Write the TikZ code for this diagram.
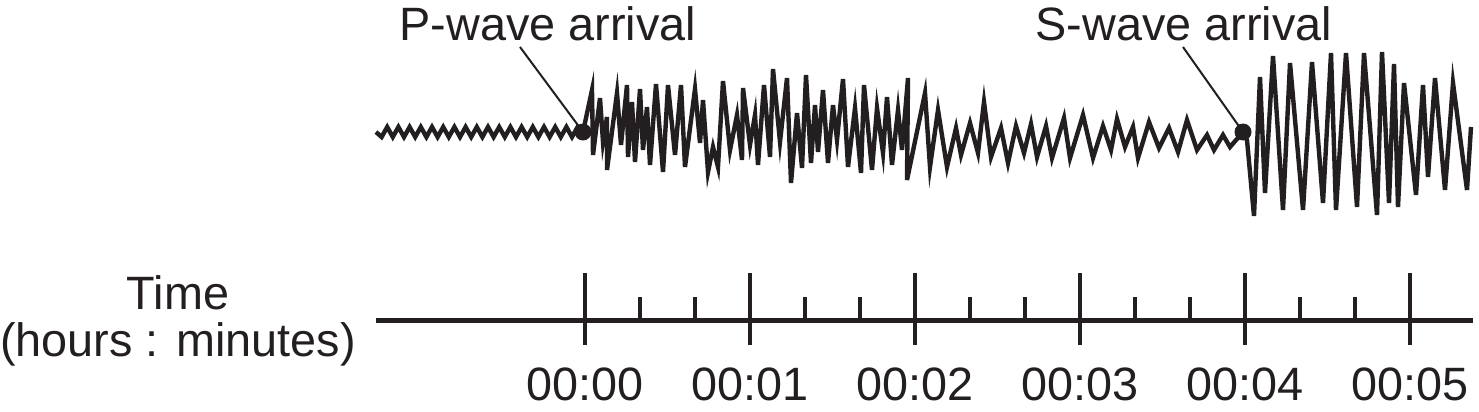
\documentclass[tikz,border=0pt]{standalone}
\usepackage{fontspec}
\setmainfont{Liberation Sans}
\usepackage{tikz}

\definecolor{ink}{HTML}{231F20}

\tikzset{
    wave/.style = {ink, line width=2.2pt, line join=miter},
    axisline/.style = {ink, line width=2.5pt},
    bigtick/.style = {ink, line width=1.7pt},
    smalltick/.style = {ink, line width=1.7pt},
    leader/.style = {ink, line width=1pt},
    arrivaldot/.style = {circle, fill=ink, inner sep=0pt, minimum size=8.5pt},
    txt/.style = {ink, inner sep=0pt}
}

\begin{document}
\begin{tikzpicture}[x=0.5pt, y=-0.5pt, font=\fontsize{23.4}{23.4}\selectfont]

        \useasboundingbox (0,0) rectangle (1479,412);

        % seismogram trace
        \draw[wave] (376,132)
            \foreach \i in {0,...,17} {-- ({381.6+11.2*\i},137) -- ({387.2+11.2*\i},127)}
            -- (583,132)
            -- (592,90) -- (593,155) -- (600,98) -- (603,142) -- (607,117) -- (607,170)
            -- (617,93) -- (621,145) -- (627,85) -- (628,157) -- (632,102) -- (635,162)
            -- (640,89) -- (643,150) -- (647,107) -- (650,165) -- (656,84) -- (663,172)
            -- (668,85) -- (675,155) -- (681,85) -- (685,167) -- (695,89) -- (700,143)
            -- (703,100) -- (708,172) -- (713,147) -- (718,167) -- (723,81) -- (730,150)
            -- (737,115) -- (742,160) -- (743,88) -- (750,145) -- (755,115) -- (758,165)
            -- (764,85) -- (770,157) -- (773,69) -- (780,142) -- (787,78) -- (791,183)
            -- (797,113) -- (802,168) -- (806,75) -- (811,163) -- (815,105) -- (818,152)
            -- (823,90) -- (828,163) -- (833,105) -- (837,140) -- (843,79) -- (848,167)
            -- (855,108) -- (861,173) -- (864,85) -- (872,170) -- (877,108) -- (883,153)
            -- (887,97) -- (892,165) -- (898,110) -- (902,150) -- (908,78) -- (907,180)
            -- (925,93) -- (930,167) -- (938,110) -- (947,167) -- (956,128) -- (961,155)
            -- (970,123) -- (978,153) -- (984,102) -- (991,157) -- (1001,128) -- (1008,163)
            -- (1016,126) -- (1024,153) -- (1031,124) -- (1037,157) -- (1046,126) -- (1052,158)
            -- (1064,118) -- (1070,158) -- (1083,115) -- (1093,158) -- (1103,126) -- (1111,150)
            -- (1117,119) -- (1125,147) -- (1133,127) -- (1138,158) -- (1149,122) -- (1159,148)
            -- (1169,128) -- (1178,152) -- (1187,120) -- (1197,150) -- (1207,135) -- (1214,150)
            -- (1223,135) -- (1230,147) -- (1243,132)
            -- (1247,140) -- (1254,216) -- (1260,77) -- (1265,193) -- (1273,56) -- (1283,210)
            -- (1290,63) -- (1303,210) -- (1312,62) -- (1323,203) -- (1331,53) -- (1336,210)
            -- (1346,53) -- (1357,207) -- (1364,53) -- (1377,215) -- (1382,52) -- (1389,203)
            -- (1394,64) -- (1398,207) -- (1404,83) -- (1416,195) -- (1423,85) -- (1428,177)
            -- (1435,78) -- (1445,190) -- (1453,83) -- (1467,190) -- (1471,127);

        % arrivals
        \node (p_label)[txt, anchor=base] at (548,40) {P-wave arrival};
        \node (s_label)[txt, anchor=base] at (1184,40) {S-wave arrival};
        \coordinate (p_tip) at (520,47);
        \coordinate (s_tip) at (1183,47);
        \node (p_dot)[arrivaldot] at (583,132) {};
        \node (s_dot)[arrivaldot] at (1243,132) {};
        \path (p_tip) edge[leader] (p_dot.center);
        \path (s_tip) edge[leader] (s_dot.center);

        % time axis
        \node (time_label)[txt, anchor=north, align=center] at (178,275) {Time\\(hours : minutes)};
        \coordinate (axis_start) at (376,320);
        \coordinate (axis_end) at (1473,320);
        \draw[axisline] (axis_start) -- (axis_end);
        \foreach \m in {0,...,5} {
            \draw[bigtick] ({585+165*\m},273) -- ({585+165*\m},345);
            \node (t_\m)[txt, anchor=base] at ({585+165*\m},400) {00:0\m};
        }
        \foreach \m in {0,...,4} {
            \draw[smalltick] ({640+165*\m},297) -- ({640+165*\m},320);
            \draw[smalltick] ({695+165*\m},297) -- ({695+165*\m},320);
        }
    \end{tikzpicture}
\end{document}
